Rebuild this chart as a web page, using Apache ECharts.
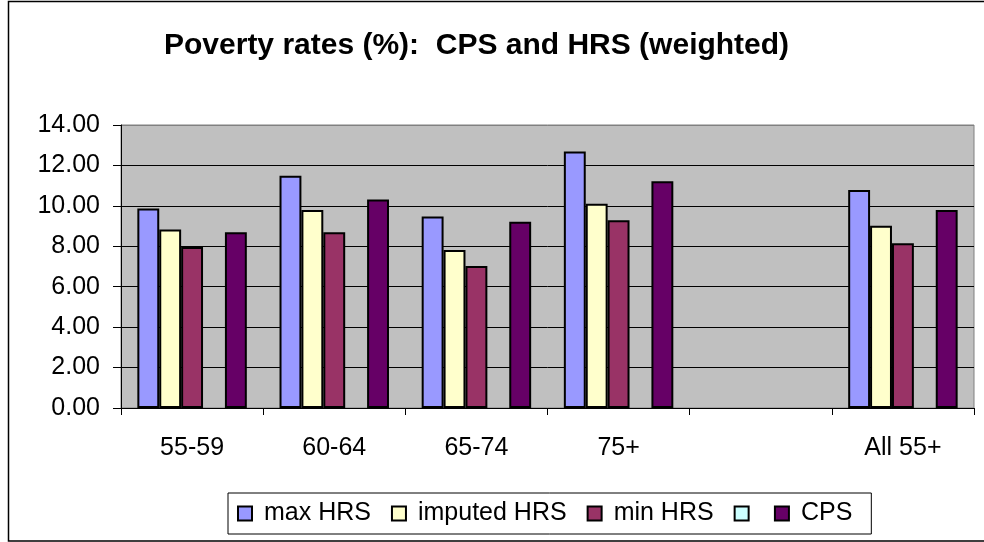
<!DOCTYPE html>
<html>
<head>
<meta charset="utf-8">
<script src="https://cdn.jsdelivr.net/npm/echarts@6/dist/echarts.min.js"></script>
<style>
html,body{margin:0;padding:0;background:#fff;}
#chart{width:984px;height:542px;}
</style>
</head>
<body>
<div id="chart"></div>
<script>
const categories = ['55-59', '60-64', '65-74', '75+', '', 'All 55+'];
const maxHRS = [9.87, 11.49, 9.47, 12.69, null, 10.79];
const imputedHRS = [8.83, 9.79, 7.82, 10.11, null, 9.02];
const minHRS = [7.97, 8.70, 7.03, 9.29, null, 8.15];
const blankSeries = [null, null, null, null, null, null];
const cps = [8.70, 10.31, 9.21, 11.22, null, 9.80];
const yTicks = [0, 2, 4, 6, 8, 10, 12, 14];

const FONT = '"Liberation Sans", Arial, sans-serif';
const chart = echarts.init(document.getElementById('chart'), null, {renderer: 'canvas'});

function barSeries(name, data, color) {
  return {
    name: name,
    type: 'bar',
    data: data,
    barGap: '0%',
    barCategoryGap: '23%',
    itemStyle: {color: color, borderColor: '#000', borderWidth: 2},
    emphasis: {disabled: true},
    animation: false
  };
}

chart.setOption({
  animation: false,
  backgroundColor: '#fff',
  title: {
    text: 'Poverty rates (%):  CPS and HRS (weighted)',
    left: 159,
    top: 26,
    textStyle: {fontFamily: FONT, fontSize: 30, fontWeight: 'bold', color: '#000'}
  },
  legend: {
    left: 228,
    top: 493,
    padding: [8, 19, 8, 9],
    itemGap: 20,
    itemWidth: 14,
    itemHeight: 14,
    icon: 'rect',
    borderColor: '#000',
    borderWidth: 1,
    backgroundColor: '#fff',
    selectedMode: false,
    data: [
      'max HRS',
      'imputed HRS',
      'min HRS',
      {name: ' ', textStyle: {padding: 0, fontSize: 1}},
      'CPS'
    ],
    textStyle: {fontFamily: FONT, fontSize: 25, color: '#000', padding: [0, 0, 0, 7]},
    itemStyle: {borderColor: '#000', borderWidth: 2}
  },
  grid: {
    left: 121,
    right: 10,
    top: 125,
    bottom: 134,
    show: true,
    backgroundColor: '#C0C0C0',
    borderColor: '#808080',
    borderWidth: 1
  },
  xAxis: {
    type: 'category',
    data: categories,
    axisLine: {lineStyle: {color: '#000', width: 1}},
    axisTick: {show: true, length: 7, lineStyle: {color: '#000'}},
    axisLabel: {fontFamily: FONT, fontSize: 25, color: '#000', margin: 28, interval: 0}
  },
  yAxis: {
    type: 'value',
    min: yTicks[0],
    max: yTicks[yTicks.length - 1],
    interval: 2,
    axisLine: {show: true, lineStyle: {color: '#000', width: 1}},
    axisTick: {show: true, length: 8, lineStyle: {color: '#000'}},
    axisLabel: {fontFamily: FONT, fontSize: 25, color: '#000', margin: 21,
      formatter: v => v.toFixed(2)},
    splitLine: {show: true, lineStyle: {color: ['#000','#000','#000','#000','#000','#000','#000','#808080'], width: 1}}
  },
  graphic: [{
    type: 'rect',
    shape: {x: 8.5, y: 1.5, width: 1000, height: 539.5},
    style: {fill: null, stroke: '#000', lineWidth: 1.5},
    silent: true,
    z: -1
  }],
  series: [
    barSeries('max HRS', maxHRS, '#9999FF'),
    barSeries('imputed HRS', imputedHRS, '#FFFFCC'),
    barSeries('min HRS', minHRS, '#993366'),
    barSeries(' ', blankSeries, '#CCFFFF'),
    barSeries('CPS', cps, '#660066')
  ]
});
</script>
</body>
</html>
